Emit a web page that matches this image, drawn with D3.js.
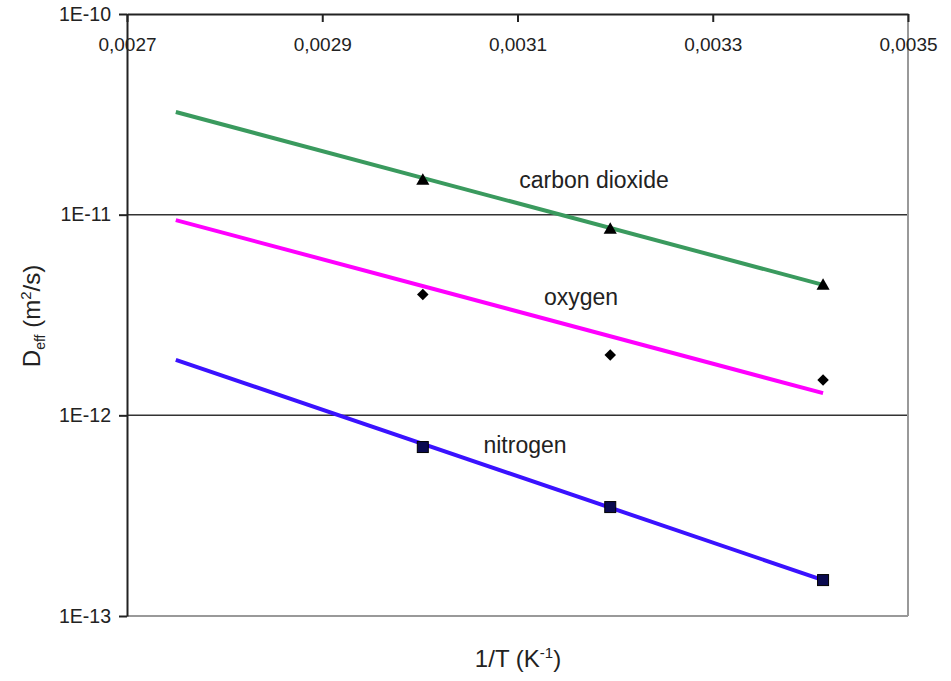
<!DOCTYPE html>
<html><head><meta charset="utf-8">
<script src="https://cdn.jsdelivr.net/npm/d3@7"></script>
<style>body{margin:0;background:#fff}svg{display:block}text{font-family:"Liberation Sans",Arial,sans-serif;fill:#222}</style>
</head><body><svg id="c" width="951" height="681"></svg>
<script>
const xTicks = [0.0027, 0.0029, 0.0031, 0.0033, 0.0035];
const xTickLabels = ["0,0027", "0,0029", "0,0031", "0,0033", "0,0035"];
const yTicks = [1e-10, 1e-11, 1e-12, 1e-13];
const yTickLabels = ["1E-10", "1E-11", "1E-12", "1E-13"];
const invT = [0.003003, 0.003195, 0.003413];
const lineX = [0.00275, 0.003413];
const co2Points = [1.49e-11, 8.5e-12, 4.47e-12];
const co2Line = [3.25e-11, 4.47e-12];
const o2Points = [4.0e-12, 2.0e-12, 1.5e-12];
const o2Line = [9.4e-12, 1.29e-12];
const n2Points = [6.95e-13, 3.49e-13, 1.51e-13];
const n2Line = [1.89e-12, 1.51e-13];
const seriesNames = ["carbon dioxide", "oxygen", "nitrogen"];

const svg = d3.select("#c");
const L = 127, R = 908, T = 14, B = 616;
const x = d3.scaleLinear().domain([0.0027, 0.0035]).range([L, R]);
const y = d3.scaleLog().domain([1e-13, 1e-10]).range([B, T]);

// gridlines
svg.append("g").selectAll("line").data([1e-11, 1e-12]).join("line")
  .attr("x1", L).attr("x2", R).attr("y1", d => y(d)).attr("y2", d => y(d))
  .attr("stroke", "#333").attr("stroke-width", 1.5);
// right & bottom border
svg.append("line").attr("x1", R).attr("x2", R).attr("y1", T).attr("y2", B).attr("stroke", "#999").attr("stroke-width", 2);
svg.append("line").attr("x1", L).attr("x2", R).attr("y1", B).attr("y2", B).attr("stroke", "#999").attr("stroke-width", 2);

// top axis
const xAxis = d3.axisTop(x).tickValues(xTicks).tickFormat((d, i) => xTickLabels[i]).tickSizeInner(-8).tickSizeOuter(0);
const gx = svg.append("g").attr("transform", `translate(0,${T})`).call(xAxis);
gx.select(".domain").attr("stroke", "#222").attr("stroke-width", 2);
gx.selectAll(".tick line").attr("stroke", "#222").attr("stroke-width", 2);
gx.selectAll(".tick text").attr("y", 37).attr("dy", 0).attr("font-size", 19).attr("font-family", "Liberation Sans, Arial, sans-serif").attr("fill", "#333");

// left axis
const yAxis = d3.axisLeft(y).tickValues(yTicks).tickFormat((d, i) => yTickLabels[i]).tickSizeInner(8).tickSizeOuter(0);
const gy = svg.append("g").attr("transform", `translate(${L},0)`).call(yAxis);
gy.select(".domain").attr("stroke", "#222").attr("stroke-width", 2);
gy.selectAll(".tick line").attr("stroke", "#222").attr("stroke-width", 2);
gy.selectAll(".tick text").attr("x", -16).attr("font-size", 19.5).attr("font-family", "Liberation Sans, Arial, sans-serif").attr("fill", "#333");

// fitted lines
const lineGen = d3.line().x(d => x(d[0])).y(d => y(d[1]));
const lines = [[co2Line, "#3a9a5e"], [o2Line, "#ff00ff"], [n2Line, "#3a12ff"]];
lines.forEach(([vals, col]) => {
  svg.append("path").datum(lineX.map((xv, i) => [xv, vals[i]]))
    .attr("d", lineGen).attr("fill", "none").attr("stroke", col).attr("stroke-width", 4);
});

// markers
svg.append("g").selectAll("path").data(invT.map((t, i) => [t, co2Points[i]])).join("path")
  .attr("d", d3.symbol().type(d3.symbolTriangle).size(75)())
  .attr("transform", d => `translate(${x(d[0])},${y(d[1]) + 1})`).attr("fill", "#000");
svg.append("g").selectAll("path").data(invT.map((t, i) => [t, o2Points[i]])).join("path")
  .attr("d", d3.symbol().type(d3.symbolDiamond2).size(85)())
  .attr("transform", d => `translate(${x(d[0])},${y(d[1])})`).attr("fill", "#000");
svg.append("g").selectAll("rect").data(invT.map((t, i) => [t, n2Points[i]])).join("rect")
  .attr("x", d => x(d[0]) - 5.5).attr("y", d => y(d[1]) - 5.5).attr("width", 11).attr("height", 11)
  .attr("fill", "#0a0a50").attr("stroke", "#000").attr("stroke-width", 1);

// series labels
const labelPos = [[594, 188], [581, 305], [525, 453]];
seriesNames.forEach((n, i) => {
  svg.append("text").attr("x", labelPos[i][0]).attr("y", labelPos[i][1]).attr("text-anchor", "middle")
    .attr("font-size", 23).text(n);
});

// axis titles
const xt = svg.append("text").attr("x", 518).attr("y", 667).attr("text-anchor", "middle").attr("font-size", 24);
xt.append("tspan").text("1/T (K");
xt.append("tspan").attr("dy", -9).attr("font-size", 15).text("-1");
xt.append("tspan").attr("dy", 9).text(")");

const yt = svg.append("text").attr("transform", "translate(40,316) rotate(-90)").attr("text-anchor", "middle").attr("font-size", 24);
yt.append("tspan").text("D");
yt.append("tspan").attr("dy", 5).attr("font-size", 14).text("eff");
yt.append("tspan").attr("dy", -5).text(" (m");
yt.append("tspan").attr("dy", -9).attr("font-size", 15).text("2");
yt.append("tspan").attr("dy", 9).text("/s)");
</script></body></html>
